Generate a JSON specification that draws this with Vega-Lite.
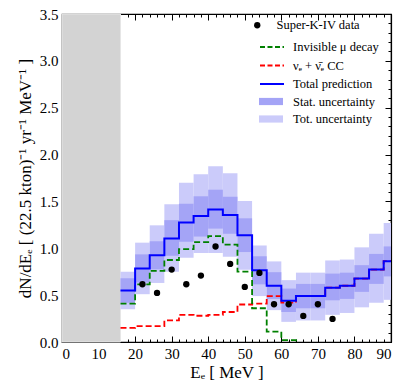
{
  "$schema": "https://vega.github.io/schema/vega-lite/v6.json",
  "width": 329,
  "height": 328,
  "autosize": {"type": "none"},
  "padding": {"left": 62, "top": 14, "right": 16, "bottom": 49},
  "config": {
    "view": {"stroke": "black", "strokeWidth": 1.2},
    "font": "Liberation Serif",
    "axis": {"grid": false, "labelFont": "Liberation Serif", "titleFont": "Liberation Serif", "labelColor": "black", "titleColor": "black", "tickColor": "black", "domainColor": "black", "zindex": 1, "labelFontSize": 15, "titleFontSize": 17, "titleFontWeight": "normal"},
    "legend": {"orient": "none", "title": null, "labelFont": "Liberation Serif", "labelFontSize": 12.5, "labelColor": "black", "padding": 0, "symbolOpacity": 1}
  },
  "datasets": {
    "steps": [
      {"E": 16, "total": 0.55, "mu": 0.41, "cc": 0.15},
      {"E": 20, "total": 0.785, "mu": 0.615, "cc": 0.17},
      {"E": 24, "total": 0.925, "mu": 0.76, "cc": 0.17},
      {"E": 28, "total": 1.105, "mu": 0.875, "cc": 0.23},
      {"E": 32, "total": 1.275, "mu": 0.99, "cc": 0.29},
      {"E": 36, "total": 1.345, "mu": 1.065, "cc": 0.28},
      {"E": 40, "total": 1.415, "mu": 1.13, "cc": 0.29},
      {"E": 44, "total": 1.355, "mu": 1.04, "cc": 0.32},
      {"E": 48, "total": 1.14, "mu": 0.75, "cc": 0.40},
      {"E": 52, "total": 0.765, "mu": 0.36, "cc": 0.41},
      {"E": 56, "total": 0.60, "mu": 0.11, "cc": 0.49},
      {"E": 60, "total": 0.44, "mu": 0.02, "cc": 0.42},
      {"E": 64, "total": 0.49, "mu": 0.0, "cc": 0.49},
      {"E": 68, "total": 0.49, "mu": null, "cc": 0.49},
      {"E": 72, "total": 0.58, "mu": null, "cc": 0.58},
      {"E": 76, "total": 0.60, "mu": null, "cc": 0.60},
      {"E": 80, "total": 0.677, "mu": null, "cc": 0.677},
      {"E": 84, "total": 0.773, "mu": null, "cc": 0.773},
      {"E": 88, "total": 0.862, "mu": null, "cc": 0.862},
      {"E": 90, "total": 0.862, "mu": null, "cc": 0.862}
    ],
    "bands": [
      {"E": 16, "E2": 20, "stat_lo": 0.42, "stat_hi": 0.68, "tot_lo": 0.35, "tot_hi": 0.75},
      {"E": 20, "E2": 24, "stat_lo": 0.635, "stat_hi": 0.935, "tot_lo": 0.51, "tot_hi": 1.06},
      {"E": 24, "E2": 28, "stat_lo": 0.775, "stat_hi": 1.075, "tot_lo": 0.63, "tot_hi": 1.245},
      {"E": 28, "E2": 32, "stat_lo": 0.92, "stat_hi": 1.30, "tot_lo": 0.75, "tot_hi": 1.47},
      {"E": 32, "E2": 36, "stat_lo": 1.07, "stat_hi": 1.475, "tot_lo": 0.90, "tot_hi": 1.70},
      {"E": 36, "E2": 40, "stat_lo": 1.125, "stat_hi": 1.555, "tot_lo": 0.95, "tot_hi": 1.79},
      {"E": 40, "E2": 44, "stat_lo": 1.21, "stat_hi": 1.625, "tot_lo": 0.95, "tot_hi": 1.875},
      {"E": 44, "E2": 48, "stat_lo": 1.155, "stat_hi": 1.55, "tot_lo": 0.91, "tot_hi": 1.80},
      {"E": 48, "E2": 52, "stat_lo": 0.96, "stat_hi": 1.32, "tot_lo": 0.77, "tot_hi": 1.505},
      {"E": 52, "E2": 56, "stat_lo": 0.615, "stat_hi": 0.915, "tot_lo": 0.49, "tot_hi": 1.03},
      {"E": 56, "E2": 60, "stat_lo": 0.46, "stat_hi": 0.745, "tot_lo": 0.34, "tot_hi": 0.86},
      {"E": 60, "E2": 64, "stat_lo": 0.32, "stat_hi": 0.57, "tot_lo": 0.215, "tot_hi": 0.66},
      {"E": 64, "E2": 68, "stat_lo": 0.36, "stat_hi": 0.62, "tot_lo": 0.23, "tot_hi": 0.74},
      {"E": 68, "E2": 72, "stat_lo": 0.36, "stat_hi": 0.62, "tot_lo": 0.23, "tot_hi": 0.74},
      {"E": 72, "E2": 76, "stat_lo": 0.445, "stat_hi": 0.73, "tot_lo": 0.29, "tot_hi": 0.87},
      {"E": 76, "E2": 80, "stat_lo": 0.46, "stat_hi": 0.74, "tot_lo": 0.31, "tot_hi": 0.88},
      {"E": 80, "E2": 84, "stat_lo": 0.535, "stat_hi": 0.82, "tot_lo": 0.37, "tot_hi": 1.01},
      {"E": 84, "E2": 88, "stat_lo": 0.62, "stat_hi": 0.94, "tot_lo": 0.42, "tot_hi": 1.155},
      {"E": 88, "E2": 90, "stat_lo": 0.70, "stat_hi": 1.02, "tot_lo": 0.45, "tot_hi": 1.27}
    ],
    "points": [
      {"E": 22, "N": 0.616}, {"E": 26, "N": 0.524}, {"E": 30, "N": 0.773}, {"E": 34, "N": 0.616},
      {"E": 38, "N": 0.709}, {"E": 42, "N": 1.019}, {"E": 46, "N": 0.833}, {"E": 50, "N": 0.588},
      {"E": 54, "N": 0.737}, {"E": 58, "N": 0.403}, {"E": 62, "N": 0.403}, {"E": 66, "N": 0.278},
      {"E": 70, "N": 0.403}, {"E": 74, "N": 0.246}
    ],
    "shade": [{"a": 0, "b": 16}]
  },
  "resolve": {"axis": {"x": "independent", "y": "independent"}, "scale": {"color": "independent"}, "legend": {"color": "independent"}},
  "layer": [
    {
      "data": {"name": "shade"},
      "mark": {"type": "rect", "color": "#d3d3d3", "stroke": "#e6e6e6", "strokeWidth": 1},
      "encoding": {
        "x": {"field": "a", "type": "quantitative", "scale": {"domain": [0, 90], "nice": false, "zero": false},
              "axis": {"orient": "bottom", "values": [0,10,20,30,40,50,60,70,80,90], "tickSize": -6, "labelPadding": 10, "title": "Eₑ  [ MeV ]", "titlePadding": 3, "domain": true, "domainWidth": 1.2}},
        "x2": {"field": "b"},
        "y": {"datum": 0, "type": "quantitative", "scale": {"domain": [0, 3.5], "nice": false, "zero": true},
              "axis": {"orient": "left", "values": [0,0.5,1,1.5,2,2.5,3,3.5], "format": ".1f", "tickSize": -6, "labelPadding": 10, "title": "dN/dEₑ  [ (22.5 kton)⁻¹ yr⁻¹ MeV⁻¹ ]", "titlePadding": 5, "domain": true, "domainWidth": 1.2}},
        "y2": {"datum": 3.5}
      }
    },
    {
      "data": {"name": "bands"},
      "mark": {"type": "rect"},
      "encoding": {
        "x": {"field": "E", "type": "quantitative", "axis": {"orient": "bottom", "values": [2,4,6,8,12,14,16,18,22,24,26,28,32,34,36,38,42,44,46,48,52,54,56,58,62,64,66,68,72,74,76,78,82,84,86,88], "tickSize": -3, "labels": false, "title": null, "domain": false}},
        "x2": {"field": "E2"},
        "y": {"field": "tot_lo", "type": "quantitative", "axis": {"orient": "left", "values": [0.1,0.2,0.3,0.4,0.6,0.7,0.8,0.9,1.1,1.2,1.3,1.4,1.6,1.7,1.8,1.9,2.1,2.2,2.3,2.4,2.6,2.7,2.8,2.9,3.1,3.2,3.3,3.4], "tickSize": -3, "labels": false, "title": null, "domain": false}},
        "y2": {"field": "tot_hi"},
        "color": {"datum": "Tot. uncertainty", "type": "nominal", "scale": {"domain": ["Tot. uncertainty"], "range": ["#cbcbfa"]},
          "legend": {"legendX": 197, "legendY": 93, "symbolType": "M-1,-0.3H1V0.3H-1Z", "symbolSize": 576, "symbolStrokeWidth": 0, "labelOffset": 10}}
      }
    },
    {
      "data": {"name": "bands"},
      "mark": {"type": "rect"},
      "encoding": {
        "x": {"field": "E", "type": "quantitative", "axis": {"orient": "top", "values": [0,10,20,30,40,50,60,70,80,90], "tickSize": -6, "labels": false, "title": null, "domain": true, "domainWidth": 1.2}},
        "x2": {"field": "E2"},
        "y": {"field": "stat_lo", "type": "quantitative", "axis": {"orient": "right", "values": [0,0.5,1,1.5,2,2.5,3,3.5], "tickSize": -6, "labels": false, "title": null, "domain": true, "domainWidth": 1.2}},
        "y2": {"field": "stat_hi"},
        "color": {"datum": "Stat. uncertainty", "type": "nominal", "scale": {"domain": ["Stat. uncertainty"], "range": ["#a4a4f6"]},
          "legend": {"legendX": 197, "legendY": 75.5, "symbolType": "M-1,-0.3H1V0.3H-1Z", "symbolSize": 576, "symbolStrokeWidth": 0, "labelOffset": 10}}
      }
    },
    {
      "data": {"name": "steps"},
      "mark": {"type": "line", "interpolate": "step-after", "strokeWidth": 1.8, "strokeDash": [6, 3]},
      "encoding": {
        "x": {"field": "E", "type": "quantitative", "axis": {"orient": "top", "values": [2,4,6,8,12,14,16,18,22,24,26,28,32,34,36,38,42,44,46,48,52,54,56,58,62,64,66,68,72,74,76,78,82,84,86,88], "tickSize": -3, "labels": false, "title": null, "domain": false}},
        "y": {"field": "cc", "type": "quantitative", "axis": {"orient": "right", "values": [0.1,0.2,0.3,0.4,0.6,0.7,0.8,0.9,1.1,1.2,1.3,1.4,1.6,1.7,1.8,1.9,2.1,2.2,2.3,2.4,2.6,2.7,2.8,2.9,3.1,3.2,3.3,3.4], "tickSize": -3, "labels": false, "title": null, "domain": false}},
        "color": {"datum": "νₑ + ν̄ₑ CC", "type": "nominal", "scale": {"domain": ["νₑ + ν̄ₑ CC"], "range": ["red"]},
          "legend": {"legendX": 197, "legendY": 38.5, "symbolType": "stroke", "symbolSize": 576, "symbolStrokeWidth": 2, "symbolDash": [5, 2.5], "labelOffset": 8}}
      }
    },
    {
      "data": {"name": "steps"},
      "transform": [{"filter": "datum.mu != null"}],
      "mark": {"type": "line", "interpolate": "step-after", "strokeWidth": 1.8, "strokeDash": [6, 3]},
      "encoding": {
        "x": {"field": "E", "type": "quantitative", "axis": null},
        "y": {"field": "mu", "type": "quantitative", "axis": null},
        "color": {"datum": "Invisible μ decay", "type": "nominal", "scale": {"domain": ["Invisible μ decay"], "range": ["green"]},
          "legend": {"legendX": 197, "legendY": 20, "symbolType": "stroke", "symbolSize": 576, "symbolStrokeWidth": 2, "symbolDash": [5, 2.5], "labelOffset": 8}}
      }
    },
    {
      "data": {"name": "steps"},
      "mark": {"type": "line", "interpolate": "step-after", "strokeWidth": 2},
      "encoding": {
        "x": {"field": "E", "type": "quantitative", "axis": null},
        "y": {"field": "total", "type": "quantitative", "axis": null},
        "color": {"datum": "Total prediction", "type": "nominal", "scale": {"domain": ["Total prediction"], "range": ["blue"]},
          "legend": {"legendX": 197, "legendY": 57, "symbolType": "stroke", "symbolSize": 576, "symbolStrokeWidth": 2, "labelOffset": 8}}
      }
    },
    {
      "data": {"name": "points"},
      "mark": {"type": "point", "filled": true, "opacity": 1, "size": 40},
      "encoding": {
        "x": {"field": "E", "type": "quantitative", "axis": null},
        "y": {"field": "N", "type": "quantitative", "axis": null},
        "color": {"datum": "Super-K-IV data", "type": "nominal", "scale": {"domain": ["Super-K-IV data"], "range": ["black"]},
          "legend": {"legendX": 197, "legendY": 5, "symbolType": "circle", "symbolSize": 40, "symbolOffset": -8, "labelOffset": 13}}
      }
    }
  ]
}
